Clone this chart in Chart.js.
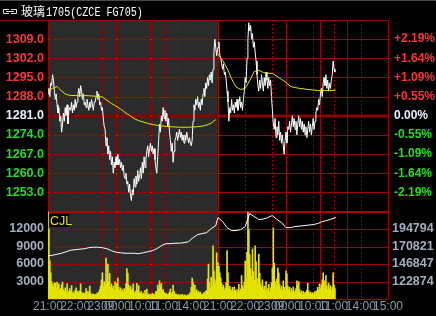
<!DOCTYPE html>
<html><head><meta charset="utf-8">
<script src="https://cdn.jsdelivr.net/npm/chart.js@4.4.0/dist/chart.umd.min.js"></script>
<style>html,body{margin:0;padding:0;background:#000;overflow:hidden}canvas{display:block}</style>
</head><body>
<canvas id="c" width="436" height="316"></canvas>
<script>
// ---------- data ----------
const contractName = '玻璃';
const contractCode = '1705(CZCE FG705)';
const volumeLabel = 'CJL';
const refPrice = 1281;            // previous settlement (0.00%)
const dayMinutes = 375;           // trading minutes per session day
const sampleStep = 2;             // minutes between price / volume samples
const lineStep = 10;              // minutes between average / open-interest samples
const sessionBreaks = [150, 225, 285];

const timeTicks  = [0,60,120,150,210,225,255,285,315,375,435,495,525,585,600,630,660,690,750];
const timeLabels = ['21:00','22:00','23:00','09:00','10:00','','11:00','','14:00','21:00','22:00','23:00','09:00','10:00','','11:00','','14:00','15:00'];
const priceTicks = [1246,1253,1260,1267,1274,1281,1288,1295,1302,1309,1316];
const volTicks   = [0,3000,6000,9000,12000,15000];
const oiTicks    = [98900.5,122874,146847.5,170821,194794.5,218768];

const day1Price = [1289,1291,1288,1293,1292,1296, 1294,1290,1287,1289,1285, 1282,1284,1279,1281,1275,1278,
 1282,1279,1284,1281,1285,1278,1283,1284, 1283,1286,1282,1285,1283,1287,1284,1286,
 1289,1291,1288,1292,1290,1287,1289,1285, 1286,1284,1287,1285,1283,1286,1284,1287,1285,1283,1286,
 1286,1288,1290,1287,1289,1285, 1286,1283,1284,1280,1277, 1276,1270,1273,1267,1270,1265,
 1268,1263,1266,1260,1264,1262,1266,1263, 1267,1263,1265,1262,1264,1261,1263,1259,1258,1260,1256,
 1257,1253,1256,1252,1250,1254,1252, 1258,1255,1259,1256,1261,1257,1259, 1262,1258,1264,1260,1266,1262,1265,
 1268,1270,1266,1269,1271,1268,1270,1267,1269,1265, 1262,1260,1266, 1272,1278,1275,1281,1279,1284,
 1280,1283,1279,1282, 1277,1280,1275, 1272,1268,1271,1264,1268,1272,
 1273,1275,1272,1274,1276,1273,1275,1272,1274,1271,1274,1272,1275,1273,1271,1273, 1271,1270,1272,
 1279,1285,1283,1287, 1285,1288,1284,1286,1283,1287,1285,1289,1291,1288,
 1293,1291,1295,1292,1296,1294,1297,1293,1298, 1304,1309,1306,1303,1305];
const day2Price = [1306,1308,1303,1302, 1300,1298,1300,1296,1297,1294, 1290,1286,1279,1284,1282,1287,1283,
 1285,1282,1286,1284,1287,1283,1285,1288,1284,1286,1283,1287, 1290,1295,1293, 1302,1309,1315,
 1312,1314,1309,1311,1306,1308,1304,1301, 1296,1292,1290,
 1294,1291,1296,1293,1290,1295,1292,1297,1294,1291,1295,1292,1294, 1288,1283,1278,
 1276,1280,1273,1277,1274,1279,1272,1275,1271,1274,1270,1267,1272,1275,1271,1277,
 1276,1279,1275,1278,1281,1277,1280,1276,1279,1274,1278,1281,1277,1280,1276,1279,1275,1278,1274,1277,
 1273,1276,1279,1275,1278,1274,1277,1280,1276,1279,1282,
 1284,1283,1287,1285,1289,1291,1288,1293, 1295,1292,1296,1291,1294, 1290,1293,1291,1294,1296,1301, 1298,1297];

const day1Avg = [1290.2,1291.0,1291.7,1290.0,1288.8,1288.4,1288.4,1288.3,1288.4,1288.3,1288.2,1288.1,1287.8,1286.7,
 1285.5,1284.5,1283.5,1282.2,1281.1,1280.0,1279.2,1278.7,1278.2,1277.8,1277.5,1277.3,1277.1,1277.0,1276.9,
 1276.8,1276.8,1276.8,1276.9,1277.0,1277.2,1277.6,1278.3,1279.6];
const day2Avg = [1303.5,1301.3,1298.3,1294.5,1291.5,1290.6,1291.0,1293.9,1297.2,1297.6,1296.8,1296.5,1296.5,1295.4,
 1294.3,1293.2,1291.7,1291.3,1291.0,1290.8,1290.6,1290.4,1290.2,1290.2,1290.2,1290.2,1290.4];

const day1OI = [158146,158835,160212,161590,163657,165723,166413,167100,167790,169168,169857,169857,169168,167790,
 165035,162968,162279,161590,161590,161590,160901,162279,163657,165035,167790,171923,174679,174679,175368,
 175368,176057,177435,182946,187079,188457,189835,195346,199479];
const day2OI = [210502,204991,196724,192590,192590,193968,198101,216013,211880,207746,208435,210502,213257,207746,
 203613,196724,196724,198101,198790,199479,200168,200857,202235,204991,206368,208435,210502];

const day1Vol = [15000,12000,6600,4500,3000,2500,
 2000,2800,2700,1800,2900,2200,2600,1500,1800,2400,2900,
 1600,1300,1900,1200,2600,1400,1100,1800,1300,2300,1000,1200,900,1500,1900,1100,
 1300,900,1400,2600,1200,900,1000,800,1100,1800,700,1300,900,2200,1000,800,700,900,600,800,700,1000,800,1200,1600,
 2200,3300,4500,2100,3000,2400,7000,3200,6000,2800,4400,2000,2600,1800,2200,1500,3000,1700,2700,
 3600,2000,1500,1900,1300,1600,1100,1800,1400,2600,5200,4400,2400,1800,2200,1500,1700,2600,1200,1000,1400,2700,1500,2300,1100,
 900,1300,800,1000,700,1500,900,1700,700,900,600,800,700,1000,800,600,900,1300,1100,2400,1800,3100,2200,2700,1400,1600,1100,900,1000,800,700,900,1200,1700,900,1100,2400,1300,800,
 900,700,600,800,500,700,600,800,500,600,700,500,600,700,600,900,1100,
 2000,3600,2900,1800,2400,1200,1600,1000,1300,900,1200,800,700,900,1100,800,1300,1500,3400,6000,2800,1900,3700,2200,9100,4800,3300,2600,7900,5400];
const day2Vol = [6200,5600,4500,3600,2700,2000,2400,1500,1900,2800,
 8300,4500,1800,2200,1600,1400,2000,1300,2100,1500,
 1200,1600,1000,2500,1300,1700,4000,2300,1800,2900,
 6500,3400,8000,15000,12000,7600,5200,3900,8600,4700,
 3200,9100,6400,3500,2600,7700,4400,2600,2000,3300,
 1600,2200,1500,3000,1400,1800,2500,1200,1900,2800,
 5300,12200,6100,3000,2100,3400,5300,4500,2500,1700,
 2200,1500,3100,2000,1500,4800,4300,2200,1600,2000,
 1200,1800,1300,2100,1000,1400,1800,3100,2300,3000,
 1600,1000,1400,900,1300,1100,800,1200,1500,2700,
 1400,900,1200,800,1100,700,1000,1300,900,1400,
 2000,1500,2600,1800,2400,3300,4500,3100,1900,4000,
 2300,1600,2700,1800,2300,1400,2000,4500,2400,1800];

// ---------- build ----------
const toPoints = (vals, start, step) => vals.map((v, i) => ({x: start + i * step, y: v}));
const pricePts = toPoints(day1Price, 0, sampleStep).concat(toPoints(day2Price, dayMinutes, sampleStep));
const volPts = toPoints(day1Vol, 0, sampleStep).concat(toPoints(day2Vol, dayMinutes, sampleStep));
const oiPts = toPoints(day1OI, 0, lineStep).concat(toPoints(day2OI, dayMinutes, lineStep));

const RED = '#ff3434', GREEN = '#1fe01f', NEUTRAL = '#e8f2ff', AXISGRAY = '#a4aec0';
const GRID = '#a00000';
const FONT = "'Liberation Sans', Arial, sans-serif";
Chart.defaults.font.family = FONT;

const isSolid = m => (m % dayMinutes === 0) || sessionBreaks.includes(m % dayMinutes);

const panelPlugin = {
  id: 'panels',
  beforeDraw(chart) {
    const {ctx, chartArea: a, scales} = chart;
    ctx.save();
    ctx.fillStyle = '#000';
    ctx.fillRect(0, 0, chart.width, chart.height);
    ctx.fillStyle = '#4a4a4a';
    ctx.fillRect(0, 0, chart.width, 1);
    const x0 = scales.x.getPixelForValue(0), x1 = scales.x.getPixelForValue(dayMinutes);
    ctx.fillStyle = '#2b2b2b';
    ctx.fillRect(x0, a.top, x1 - x0, a.bottom - a.top);
    ctx.restore();
  },
  beforeDatasetsDraw(chart) {
    const {ctx, chartArea: a, scales} = chart;
    const cr = v => Math.round(v) + 0.5;
    const seg = (x1, y1, x2, y2) => { ctx.beginPath(); ctx.moveTo(x1, y1); ctx.lineTo(x2, y2); ctx.stroke(); };
    ctx.save();
    ctx.strokeStyle = GRID; ctx.lineWidth = 1;
    timeTicks.forEach(m => {
      const px = cr(scales.x.getPixelForValue(m));
      ctx.setLineDash(isSolid(m) ? [] : [2, 2]);
      seg(px, a.top, px, a.bottom);
    });
    ctx.setLineDash([]);
    priceTicks.forEach(v => {
      if (v === refPrice) return;
      const py = cr(scales.y.getPixelForValue(v));
      seg(a.left, py, a.right, py);
    });
    volTicks.forEach(v => {
      const py = cr(scales.yVol.getPixelForValue(v));
      seg(a.left, py, a.right, py);
    });
    ctx.strokeStyle = '#8c0000'; ctx.lineWidth = 3;
    const ry = Math.round(scales.y.getPixelForValue(refPrice));
    seg(a.left, ry, a.right, ry);
    ctx.strokeStyle = '#b00000'; ctx.lineWidth = 2;
    const dy = Math.round(scales.y.bottom);
    seg(a.left, dy, a.right, dy);
    ctx.strokeStyle = GRID; ctx.lineWidth = 1;
    seg(0, cr(a.top), cr(a.right), cr(a.top));
    ctx.restore();
  },
  afterDatasetsDraw(chart) {
    const {ctx, scales} = chart;
    ctx.save();
    const top = Math.round(scales.yVol.top);
    ctx.fillStyle = '#000';
    ctx.fillRect(49, top + 2, 20, 13);
    ctx.fillStyle = '#e8e800';
    ctx.font = "12.5px " + FONT;
    ctx.textBaseline = 'alphabetic';
    ctx.fillText(volumeLabel, 50, top + 13);
    ctx.restore();
  },
  afterDraw(chart) {
    const {ctx} = chart;
    ctx.save();
    ctx.strokeStyle = '#e0e0e0'; ctx.lineWidth = 1;
    ctx.beginPath();
    ctx.moveTo(9, 9.5); ctx.lineTo(3.5, 9.5); ctx.lineTo(3.5, 13.5); ctx.lineTo(9, 13.5);
    ctx.moveTo(11, 9.5); ctx.lineTo(16.5, 9.5); ctx.lineTo(16.5, 13.5); ctx.lineTo(11, 13.5);
    ctx.moveTo(6, 11.5); ctx.lineTo(14, 11.5);
    ctx.stroke();
    ctx.fillStyle = '#ffffff';
    ctx.textBaseline = 'alphabetic';
    ctx.font = "12px 'Noto Sans CJK SC'";
    ctx.fillText(contractName, 21, 16);
    const w = ctx.measureText(contractName).width;
    ctx.font = "12px 'Liberation Mono'";
    ctx.translate(21 + w + 1, 16);
    ctx.scale(6.05 / 7.2, 1);
    ctx.fillText(contractCode, 0, 0);
    ctx.restore();
  }
};

const lineBase = {pointRadius: 0, borderWidth: 1, tension: 0, fill: false, borderJoinStyle: 'bevel'};

new Chart(document.getElementById('c'), {
  type: 'line',
  data: {
    datasets: [
      Object.assign({label: 'avg1', data: toPoints(day1Avg, 0, lineStep), borderColor: '#e6e600', yAxisID: 'y'}, lineBase),
      Object.assign({label: 'avg2', data: toPoints(day2Avg, dayMinutes, lineStep), borderColor: '#e6e600', yAxisID: 'y'}, lineBase),
      Object.assign({label: 'price', data: pricePts, borderColor: '#ffffff', yAxisID: 'y'}, lineBase),
      Object.assign({label: 'oi', data: oiPts, borderColor: '#ffffff', yAxisID: 'yOI'}, lineBase),
      {type: 'bar', label: 'vol', data: volPts, backgroundColor: '#e4e400', borderWidth: 0, barThickness: 1, yAxisID: 'yVol'}
    ]
  },
  options: {
    responsive: false, animation: false, devicePixelRatio: 1, events: [],
    layout: {padding: {top: 20, left: 0, right: 0, bottom: 0}},
    plugins: {legend: {display: false}, tooltip: {enabled: false}, title: {display: false}},
    scales: {
      x: {
        type: 'linear', position: 'bottom', min: 0, max: 2 * dayMinutes, offset: false,
        afterBuildTicks: s => { s.ticks = timeTicks.map(v => ({value: v})); },
        afterFit: s => { s.height = 17; },
        grid: {display: false, drawTicks: false}, border: {display: false},
        ticks: {autoSkip: false, maxRotation: 0, minRotation: 0, padding: 0, color: '#8e98aa',
          font: {size: 12, family: FONT}, callback: (v, i) => timeLabels[i]}
      },
      y: {
        type: 'linear', position: 'left', stack: 'p', stackWeight: 191.5, weight: 2,
        min: priceTicks[0], max: priceTicks[priceTicks.length - 1],
        afterBuildTicks: s => { s.ticks = priceTicks.map(v => ({value: v})); },
        afterFit: s => { s.width = 48; },
        grid: {display: false, drawTicks: false}, border: {display: false},
        ticks: {autoSkip: false, padding: 4, font: {size: 12.5, weight: 'bold', family: FONT},
          color: c => c.tick.value > refPrice ? RED : (c.tick.value < refPrice ? GREEN : NEUTRAL),
          callback: v => (v === priceTicks[0] || v === priceTicks[priceTicks.length - 1]) ? '' : v.toFixed(1)}
      },
      yVol: {
        type: 'linear', position: 'left', stack: 'p', stackWeight: 87.5, weight: 1,
        min: volTicks[0], max: volTicks[volTicks.length - 1],
        afterBuildTicks: s => { s.ticks = volTicks.map(v => ({value: v})); },
        afterFit: s => { s.width = 48; },
        grid: {display: false, drawTicks: false}, border: {display: false},
        ticks: {autoSkip: false, padding: 4, color: AXISGRAY, font: {size: 12.5, weight: 'bold', family: FONT},
          callback: v => (v === volTicks[0] || v === volTicks[volTicks.length - 1]) ? '' : String(v)}
      },
      yPct: {
        type: 'linear', position: 'right', stack: 'p', stackWeight: 191.5, weight: 1,
        min: priceTicks[0], max: priceTicks[priceTicks.length - 1],
        afterBuildTicks: s => { s.ticks = priceTicks.map(v => ({value: v})); },
        afterFit: s => { s.width = 48; },
        grid: {display: false, drawTicks: false}, border: {display: false},
        ticks: {autoSkip: false, padding: 6, font: {size: 12, weight: 'bold', family: FONT},
          color: c => c.tick.value > refPrice ? RED : (c.tick.value < refPrice ? GREEN : NEUTRAL),
          callback: v => {
            if (v === priceTicks[0] || v === priceTicks[priceTicks.length - 1]) return '';
            if (v === refPrice) return '0.00%';
            const p = (Math.abs(v - refPrice) / refPrice * 100).toFixed(2) + '%';
            return (v > refPrice ? '+' : '-') + p;
          }}
      },
      yOI: {
        type: 'linear', position: 'right', stack: 'p', stackWeight: 87.5, weight: 2,
        min: oiTicks[0], max: oiTicks[oiTicks.length - 1],
        afterBuildTicks: s => { s.ticks = oiTicks.map(v => ({value: v})); },
        afterFit: s => { s.width = 48; },
        grid: {display: false, drawTicks: false}, border: {display: false},
        ticks: {autoSkip: false, padding: 4, color: AXISGRAY, font: {size: 12.5, weight: 'bold', family: FONT},
          callback: v => (v === oiTicks[0] || v === oiTicks[oiTicks.length - 1]) ? '' : String(Math.floor(v))}
      }
    }
  },
  plugins: [panelPlugin]
});
</script>
</body></html>
